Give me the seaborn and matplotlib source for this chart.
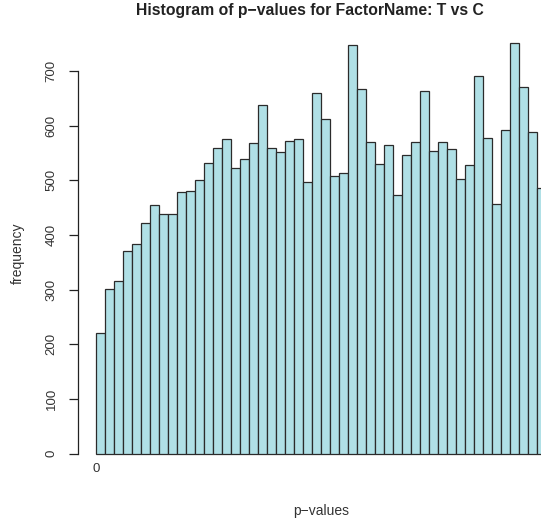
import numpy as np
import pandas as pd
import matplotlib
matplotlib.use("Agg")
import matplotlib.pyplot as plt
import seaborn as sns

# Histogram bins (left edges, width 0.01) and their counts
bin_left = [round(0.01 * i, 2) for i in range(50)]
counts = [221, 301, 316, 371, 383, 421, 454, 438, 438, 478,
          480, 501, 532, 559, 576, 523, 539, 568, 637, 560,
          551, 572, 576, 497, 659, 613, 508, 513, 748, 668,
          570, 530, 564, 474, 547, 570, 663, 554, 570, 557,
          502, 528, 691, 577, 457, 592, 752, 670, 588, 485]
y_ticks = [0, 100, 200, 300, 400, 500, 600, 700]

df = pd.DataFrame({"p": [b + 0.005 for b in bin_left], "n": counts})

sns.set_style("white")
plt.rcParams["font.family"] = ["Liberation Sans", "DejaVu Sans"]

W, H = 541, 530
fig = plt.figure(figsize=(W / 100, H / 100), dpi=100)

# axes geometry in pixels
x_left_px, x_zero_px, px_per_unit_x = 77.7, 95.7, 900.0
y_zero_px, px_per_unit_y = 453.5, 0.5464
ylo, yhi = -15, 780
ax_bottom_px = y_zero_px - ylo * px_per_unit_y
ax_top_px = y_zero_px - yhi * px_per_unit_y
ax = fig.add_axes([x_left_px / W, 1 - ax_bottom_px / H,
                   (W - x_left_px) / W, (ax_bottom_px - ax_top_px) / H])

sns.histplot(data=df, x="p", weights="n", binwidth=0.01, binrange=(0, 0.5),
             color="#b0e0e6", alpha=1, edgecolor="#2b2b2b", linewidth=0.9,
             ax=ax)

ax.set_xlim(-(x_zero_px - x_left_px) / px_per_unit_x,
            (W - x_zero_px) / px_per_unit_x)
ax.set_ylim(ylo, yhi)

for s in ["top", "right", "bottom"]:
    ax.spines[s].set_visible(False)
ax.spines["left"].set_bounds(0, 700)
ax.spines["left"].set_color("#222222")
ax.spines["left"].set_linewidth(0.9)

ax.set_yticks(y_ticks)
ax.set_yticklabels([str(v) for v in y_ticks], rotation=90, va="center")
ax.tick_params(axis="y", length=6.5, width=0.9, color="#222222", pad=8,
               labelsize=9.5, labelcolor="#333333", left=True)
ax.set_xticks([0])
ax.set_xticklabels(["0"])
ax.tick_params(axis="x", length=0, pad=1, labelsize=9.5, labelcolor="#333333")
ax.set_xlabel("")
ax.set_ylabel("")

fig.text(310 / W, 1 - 11 / H, "Histogram of p\u2212values for FactorName: T vs C",
         ha="center", va="center", fontsize=11.3, fontweight="bold", color="#222222")
fig.text(321 / W, 1 - 511 / H, "p\u2212values", ha="center", va="center",
         fontsize=10, color="#333333")
fig.text(18 / W, 1 - 253 / H, "frequency", ha="center", va="center",
         rotation=90, fontsize=10, color="#333333")

fig.savefig("out.png", dpi=100)
